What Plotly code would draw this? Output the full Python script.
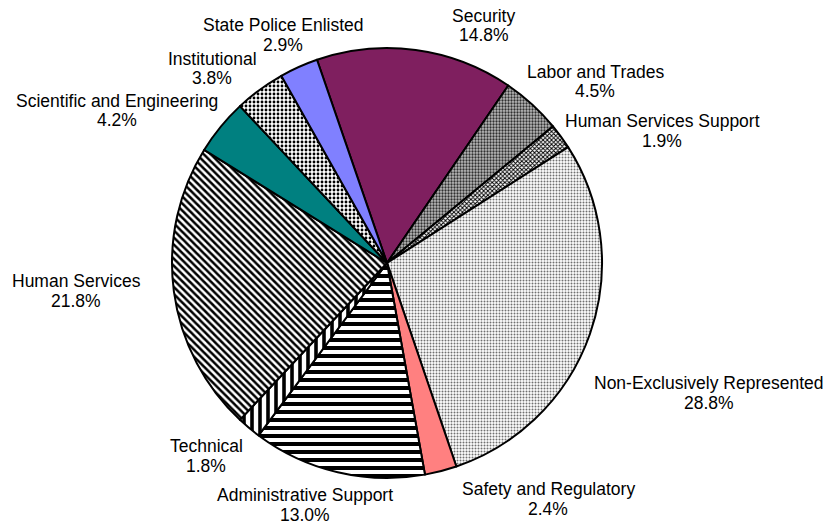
import plotly.graph_objects as go

# Workforce share by bargaining unit (percent)
categories = [
    "Security", "Labor and Trades", "Human Services Support",
    "Non-Exclusively Represented", "Safety and Regulatory",
    "Administrative Support", "Technical", "Human Services",
    "Scientific and Engineering", "Institutional", "State Police Enlisted",
]
shares = [14.8, 4.5, 1.9, 28.8, 2.4, 13.0, 1.8, 21.8, 4.2, 3.8, 2.9]

W, H = 827, 525

# Slice fills: solid colours or black/white hatch patterns
fill_colors = ["#7F1F5F", "#c4c4c4", "white", "white", "#FF8080",
               "white", "white", "white", "#008080", "white", "#8080FF"]
pat_shapes = ["", ".", "x", ".", "", "-", "|", "\\", "", ".", ""]
pat_fg = ["black", "#303030", "black", "#707070", "black",
          "black", "black", "black", "black", "black", "black"]
pat_bg = ["#7F1F5F", "#bcbcbc", "white", "white", "#FF8080",
          "white", "white", "white", "#008080", "white", "#8080FF"]
pat_size = [6, 3, 3, 3, 6, 8, 8, 5, 6, 4, 6]
pat_solid = [0.3, 0.45, 0.55, 0.35, 0.3, 0.5, 0.45, 0.5, 0.3, 0.4, 0.3]

# Label placement (pixel centre of the two text lines for each slice)
label_pos = [
    (484, 16), (595, 72), (662, 121), (709, 383), (548, 489),
    (305, 495), (206, 446), (76, 281), (117, 101), (212, 59), (283, 25),
]
line_gap = 19.5

cx, cy, r = 387, 263, 215

fig = go.Figure(go.Pie(
    labels=categories,
    values=shares,
    sort=False,
    direction="clockwise",
    rotation=-19,
    textinfo="none",
    hoverinfo="label+percent",
    showlegend=False,
    domain=dict(x=[(cx - r) / W, (cx + r) / W],
                y=[1 - (cy + r) / H, 1 - (cy - r) / H]),
    marker=dict(
        colors=fill_colors,
        line=dict(color="black", width=2),
        pattern=dict(shape=pat_shapes, fgcolor=pat_fg, bgcolor=pat_bg,
                     size=pat_size, solidity=pat_solid, fillmode="replace"),
    ),
))

font = dict(family="Liberation Sans, Arial, sans-serif", size=17.5, color="black")
annotations = []
for name, val, (px, py) in zip(categories, shares, label_pos):
    for text, yy in ((name, py), (f"{val:.1f}%", py + line_gap)):
        annotations.append(dict(
            text=text, x=px / W, y=1 - yy / H, xref="paper", yref="paper",
            xanchor="center", yanchor="middle", showarrow=False, font=font,
        ))

fig.update_layout(
    width=W, height=H,
    margin=dict(l=0, r=0, t=0, b=0),
    paper_bgcolor="white",
    plot_bgcolor="white",
    annotations=annotations,
)

fig.write_html("out.html")
